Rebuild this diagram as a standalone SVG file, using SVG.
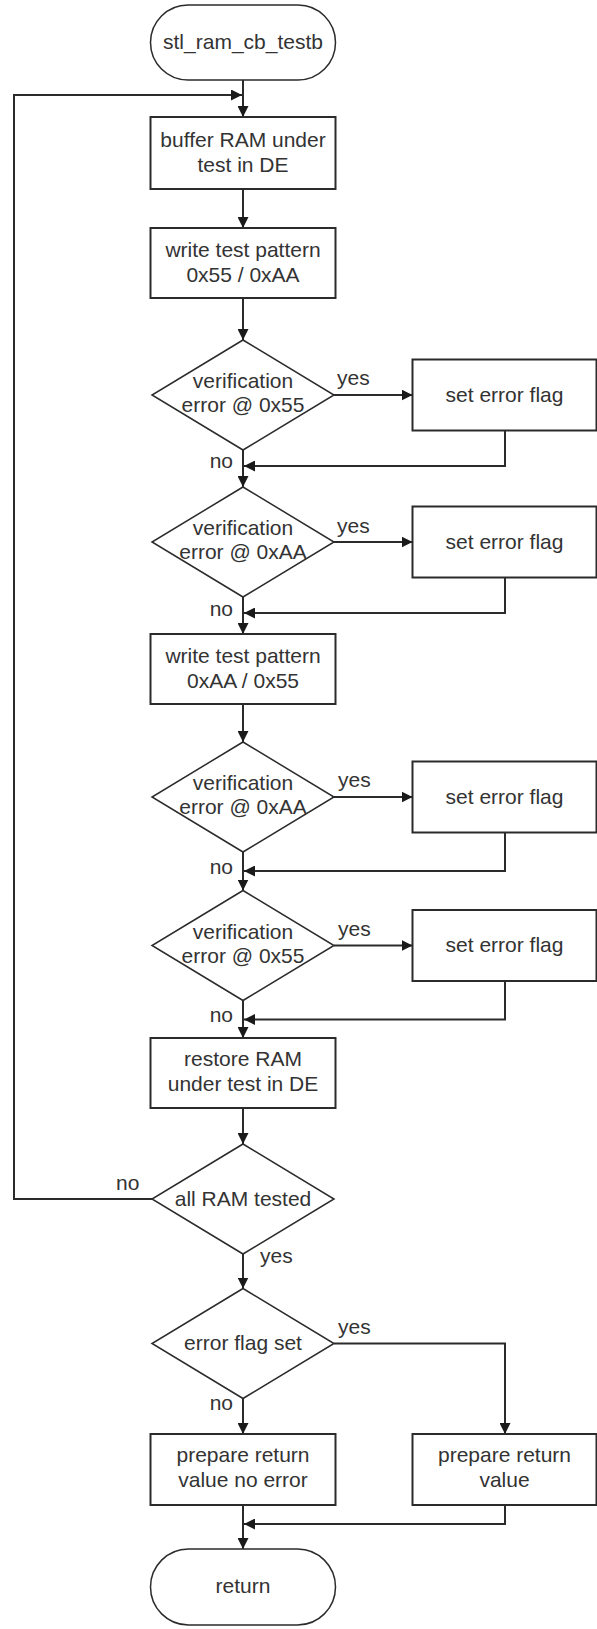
<svg xmlns="http://www.w3.org/2000/svg" width="597" height="1629" viewBox="0 0 597 1629">
  <style>
    .box { fill: #fff; stroke: #2b2b2b; stroke-width: 2; }
    .dec { fill: #fff; stroke: #2b2b2b; stroke-width: 1.5; }
    .term { fill: #fff; stroke: #2b2b2b; stroke-width: 1.5; }
    .txt { font-family: "Liberation Sans", Arial, sans-serif; font-size: 21px; fill: #333; text-anchor: middle; }
    .lbl { font-family: "Liberation Sans", Arial, sans-serif; font-size: 21px; fill: #333; }
    .end { text-anchor: end; }
    .conn { fill: none; stroke: #2b2b2b; stroke-width: 2; }
  </style>
  <defs>
    <marker id="arrow" viewBox="0 0 11 11" markerWidth="11" markerHeight="11" refX="11" refY="5.5" orient="auto" markerUnits="userSpaceOnUse">
      <path d="M0,0 L11,5.5 L0,11 z" fill="#1a1a1a"/>
    </marker>
  </defs>
  <rect width="597" height="1629" fill="#fff"/>

  <!-- connectors -->
  <g id="connectors" class="conn">
    <path d="M243,80 V117" marker-end="url(#arrow)"/>
    <path d="M152,1199 H14 V95 H242" marker-end="url(#arrow)"/>
    <path d="M243,189 V228" marker-end="url(#arrow)"/>
    <path d="M243,298 V340" marker-end="url(#arrow)"/>
    <path d="M334,395 H412.5" marker-end="url(#arrow)"/>
    <path d="M505,430.5 V466 H244" marker-end="url(#arrow)"/>
    <path d="M243,450 V487" marker-end="url(#arrow)"/>
    <path d="M334,542 H412.5" marker-end="url(#arrow)"/>
    <path d="M505,577.5 V613 H244" marker-end="url(#arrow)"/>
    <path d="M243,597 V634" marker-end="url(#arrow)"/>
    <path d="M243,704 V742" marker-end="url(#arrow)"/>
    <path d="M334,797 H412.5" marker-end="url(#arrow)"/>
    <path d="M505,832.5 V871 H244" marker-end="url(#arrow)"/>
    <path d="M243,852 V890.5" marker-end="url(#arrow)"/>
    <path d="M334,945.5 H412.5" marker-end="url(#arrow)"/>
    <path d="M505,981 V1019.5 H244" marker-end="url(#arrow)"/>
    <path d="M243,1000.5 V1038" marker-end="url(#arrow)"/>
    <path d="M243,1108 V1144" marker-end="url(#arrow)"/>
    <path d="M243,1254 V1288.5" marker-end="url(#arrow)"/>
    <path d="M243,1398.5 V1434" marker-end="url(#arrow)"/>
    <path d="M334,1343.5 H505 V1434" marker-end="url(#arrow)"/>
    <path d="M505,1505 V1524 H244" marker-end="url(#arrow)"/>
    <path d="M243,1505 V1549" marker-end="url(#arrow)"/>
  </g>

  <!-- branch labels -->
  <g id="labels" class="lbl">
    <text x="337" y="385">yes</text>
    <text x="233" y="468" class="end">no</text>
    <text x="337" y="532.5">yes</text>
    <text x="233" y="615.5" class="end">no</text>
    <text x="338" y="787">yes</text>
    <text x="233" y="873.5" class="end">no</text>
    <text x="338" y="936">yes</text>
    <text x="233" y="1022" class="end">no</text>
    <text x="116" y="1190">no</text>
    <text x="260" y="1263">yes</text>
    <text x="338" y="1334">yes</text>
    <text x="233" y="1410" class="end">no</text>
  </g>

  <g id="start">
    <rect class="term" x="150.5" y="5" width="185" height="75" rx="37.5" ry="37.5"/>
    <text class="txt" x="243" y="49">stl_ram_cb_testb</text>
  </g>

  <g id="buffer_ram">
    <rect class="box" x="150.5" y="117" width="185" height="72"/>
    <text class="txt" x="243" y="147">buffer RAM under</text>
    <text class="txt" x="243" y="172">test in DE</text>
  </g>

  <g id="write_55_aa">
    <rect class="box" x="150.5" y="228" width="185" height="70"/>
    <text class="txt" x="243" y="257">write test pattern</text>
    <text class="txt" x="243" y="282">0x55 / 0xAA</text>
  </g>

  <g id="verify_1">
    <polygon class="dec" points="243,340 334,395 243,450 152,395"/>
    <text class="txt" x="243" y="388">verification</text>
    <text class="txt" x="243" y="412">error @ 0x55</text>
  </g>
  <g id="set_flag_1">
    <rect class="box" x="412.5" y="359.5" width="184" height="71"/>
    <text class="txt" x="504.5" y="401.5">set error flag</text>
  </g>

  <g id="verify_2">
    <polygon class="dec" points="243,487 334,542 243,597 152,542"/>
    <text class="txt" x="243" y="535">verification</text>
    <text class="txt" x="243" y="559">error @ 0xAA</text>
  </g>
  <g id="set_flag_2">
    <rect class="box" x="412.5" y="506.5" width="184" height="71"/>
    <text class="txt" x="504.5" y="548.5">set error flag</text>
  </g>

  <g id="write_aa_55">
    <rect class="box" x="150.5" y="634" width="185" height="70"/>
    <text class="txt" x="243" y="663">write test pattern</text>
    <text class="txt" x="243" y="688">0xAA / 0x55</text>
  </g>

  <g id="verify_3">
    <polygon class="dec" points="243,742 334,797 243,852 152,797"/>
    <text class="txt" x="243" y="790">verification</text>
    <text class="txt" x="243" y="814">error @ 0xAA</text>
  </g>
  <g id="set_flag_3">
    <rect class="box" x="412.5" y="761.5" width="184" height="71"/>
    <text class="txt" x="504.5" y="803.5">set error flag</text>
  </g>

  <g id="verify_4">
    <polygon class="dec" points="243,890.5 334,945.5 243,1000.5 152,945.5"/>
    <text class="txt" x="243" y="938.5">verification</text>
    <text class="txt" x="243" y="962.5">error @ 0x55</text>
  </g>
  <g id="set_flag_4">
    <rect class="box" x="412.5" y="910" width="184" height="71"/>
    <text class="txt" x="504.5" y="952">set error flag</text>
  </g>

  <g id="restore_ram">
    <rect class="box" x="150.5" y="1038" width="185" height="70"/>
    <text class="txt" x="243" y="1066">restore RAM</text>
    <text class="txt" x="243" y="1091">under test in DE</text>
  </g>

  <g id="all_tested">
    <polygon class="dec" points="243,1144 334,1199 243,1254 152,1199"/>
    <text class="txt" x="243" y="1205.5">all RAM tested</text>
  </g>

  <g id="flag_set">
    <polygon class="dec" points="243,1288.5 334,1343.5 243,1398.5 152,1343.5"/>
    <text class="txt" x="243" y="1350">error flag set</text>
  </g>

  <g id="ret_no_error">
    <rect class="box" x="150.5" y="1434" width="185" height="71"/>
    <text class="txt" x="243" y="1462">prepare return</text>
    <text class="txt" x="243" y="1487">value no error</text>
  </g>

  <g id="ret_error">
    <rect class="box" x="412.5" y="1434" width="184" height="71"/>
    <text class="txt" x="504.5" y="1462">prepare return</text>
    <text class="txt" x="504.5" y="1487">value</text>
  </g>

  <g id="end">
    <rect class="term" x="150.5" y="1549" width="185" height="76" rx="38" ry="38"/>
    <text class="txt" x="243" y="1593">return</text>
  </g>
</svg>
